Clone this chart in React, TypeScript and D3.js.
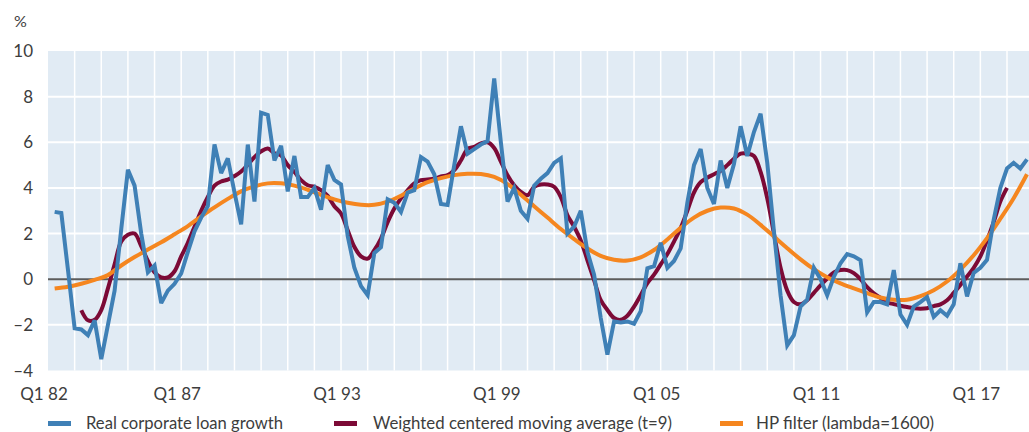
import React from 'react';
import * as d3 from 'd3';

// all quarters on the axis, Q1 82 .. Q4 18
const quarters = d3.range(148).map(i => `Q${(i % 4) + 1} ${String((82 + Math.floor(i / 4)) % 100).padStart(2, '0')}`);
const tickLabels = ['Q1 82', 'Q1 87', 'Q1 93', 'Q1 99', 'Q1 05', 'Q1 11', 'Q1 17'];
const yTicks = [-4, -2, 0, 2, 4, 6, 8, 10];

const seriesNames = ['Real corporate loan growth', 'Weighted centered moving average (t=9)', 'HP filter (lambda=1600)'];

// real corporate loan growth, from Q2 82
const loanStart = 'Q2 82';
const loanGrowth = [
  2.95, 2.9, 0.4, -2.15, -2.2, -2.45, -1.8, -3.5, -2.0, -0.5,
  2.2, 4.8, 4.1, 2.0, 0.3, 0.6, -1.05, -0.5, -0.2, 0.25,
  1.2, 2.1, 2.7, 3.2, 5.9, 4.65, 5.3, 3.8, 2.4, 5.9,
  3.4, 7.3, 7.2, 5.2, 5.85, 3.85, 5.4, 3.6, 3.6, 4.0,
  3.05, 5.0, 4.35, 4.15, 1.9, 0.5, -0.3, -0.7, 1.15, 1.4,
  3.5, 3.35, 2.95, 3.8, 3.9, 5.35, 5.15, 4.6, 3.3, 3.25,
  5.0, 6.7, 5.5, 5.7, 5.9, 6.05, 8.8, 6.0, 3.4, 4.0,
  3.0, 2.65, 4.1, 4.4, 4.65, 5.1, 5.3, 2.0, 2.3, 3.0,
  1.2, 0.2, -1.7, -3.3, -1.85, -1.9, -1.85, -1.95, -1.4, 0.48,
  0.57, 1.6, 0.5, 0.8, 1.35, 3.35, 5.0, 5.7, 4.0, 3.3,
  5.2, 4.0, 5.05, 6.7, 5.4, 6.45, 7.25, 5.1, 2.1, -0.7,
  -2.9, -2.45, -1.2, -0.9, 0.5, 0.0, -0.7, 0.1, 0.7, 1.1,
  1.0, 0.83, -1.45, -1.0, -1.0, -1.1, 0.4, -1.55, -2.0, -1.2,
  -1.0, -0.78, -1.65, -1.36, -1.6, -1.1, 0.7, -0.75, 0.28, 0.5,
  0.85, 2.6, 4.0, 4.85, 5.1, 4.85, 5.25,
];

// weighted centered moving average, from Q2 83
const wmaStart = 'Q2 83';
const wma = [
  -1.36, -1.8, -1.78, -1.35, -0.4, 0.65,
  1.65, 1.95, 2.0, 1.45, 0.8, 0.3, 0.08, 0.08, 0.35, 1.0,
  1.6, 2.3, 3.0, 3.6, 4.1, 4.28, 4.36, 4.52, 4.72, 5.02,
  5.35, 5.6, 5.73, 5.52, 5.42, 5.0, 4.7, 4.34, 4.12, 4.05,
  3.9, 3.65, 3.2, 2.88, 2.15, 1.42, 1.0, 0.9, 1.27, 1.78,
  2.5, 3.1, 3.54, 3.9, 4.2, 4.34, 4.37, 4.4, 4.5, 4.56,
  4.78, 5.2, 5.7, 5.8, 5.95, 6.0, 5.75, 5.15, 4.56, 4.12,
  3.83, 3.68, 4.05, 4.15, 4.15, 4.05, 3.6, 2.8, 2.3, 1.7,
  0.83, -0.04, -0.92, -1.35, -1.7, -1.78, -1.6, -1.2, -0.7, -0.17,
  0.2, 0.65, 1.1, 1.65, 2.25, 3.0, 3.8, 4.25, 4.45, 4.6,
  4.75, 5.0, 5.28, 5.5, 5.5, 5.4, 4.7, 3.55, 2.0, 0.5,
  -0.5, -1.0, -1.1, -0.92, -0.6, -0.27, 0.03, 0.3, 0.4, 0.4,
  0.27, 0.0, -0.35, -0.62, -0.82, -1.02, -1.09, -1.16, -1.22, -1.27,
  -1.29, -1.27, -1.18, -1.1, -0.92, -0.6, -0.25, 0.12, 0.5, 1.0,
  1.7, 2.5, 3.4, 4.0,
];

// HP trend, read every second quarter from Q2 82
const hpStart = 'Q2 82';
const hpStep = 2;
const hpTrend = [
  -0.41, -0.33, -0.2, -0.03, 0.18, 0.6, 0.97, 1.3, 1.62, 1.97,
  2.33, 2.75, 3.15, 3.52, 3.85, 4.07, 4.2, 4.2, 4.1, 3.92,
  3.7, 3.5, 3.35, 3.26, 3.26, 3.4, 3.66, 3.97, 4.25, 4.43,
  4.56, 4.62, 4.61, 4.48, 4.17, 3.7, 3.2, 2.7, 2.2, 1.76,
  1.35, 1.02, 0.85, 0.82, 0.96, 1.28, 1.74, 2.25, 2.7, 3.0,
  3.14, 3.1, 2.83, 2.38, 1.87, 1.36, 0.87, 0.44, 0.09, -0.18,
  -0.4, -0.61, -0.8, -0.9, -0.9, -0.74, -0.48, -0.1, 0.42, 1.05,
  1.8, 2.65, 3.55, 4.6,
];

const colors = ['#3f80b6', '#7c0a36', '#f5861f'];

export default function App() {
  const W = 1029;
  const H = 432;
  const left = 48;
  const top = 51;
  const bottom = 370.5;

  const x = d3.scaleLinear().domain([0, 144]).range([left, 1007]);
  const y = d3.scaleLinear().domain([-4, 10]).range([bottom, top]);

  const toPoints = (vals: number[], start: string, step = 1) => {
    const s = quarters.indexOf(start);
    return vals.map((v, i) => [s + i * step, v] as [number, number]);
  };

  const lineStraight = d3.line<[number, number]>().x(d => x(d[0])).y(d => y(d[1]));
  const lineSmooth = d3.line<[number, number]>().x(d => x(d[0])).y(d => y(d[1])).curve(d3.curveCatmullRom);

  const yearTicks = quarters.map((q, i) => i).filter(i => i % 4 === 0 && i > 0);
  const font = "Lato, 'Open Sans', sans-serif";
  const textColor = '#3d3d3d';

  // legend layout: swatch x, text x, text width
  const legend = [
    { sx: 48, tx: 86, w: 197 },
    { sx: 334, tx: 373, w: 299 },
    { sx: 720, tx: 756, w: 178 },
  ];

  return (
    <svg width={W} height={H} style={{ position: 'absolute', left: 0, top: 0 }} fontFamily={font}>
      <rect x={0} y={0} width={W} height={H} fill="#fff" />
      <rect x={left} y={top} width={W - left + 10} height={bottom - top} fill="#e1ebf4" />
      {yTicks.filter(t => t !== 0 && t !== 10 && t !== -4).map(t => (
        <line key={'h' + t} x1={left} x2={W} y1={y(t)} y2={y(t)} stroke="#fff" strokeWidth={2} />
      ))}
      {yearTicks.map(i => (
        <line key={'v' + i} x1={x(i)} x2={x(i)} y1={top} y2={bottom} stroke="#fff" strokeWidth={1.5} />
      ))}
      <line x1={left} x2={W} y1={y(0)} y2={y(0)} stroke="#5c5c5c" strokeWidth={2} />

      <path d={lineSmooth(toPoints(wma, wmaStart)) || ''} fill="none" stroke={colors[1]} strokeWidth={4} />
      <path d={lineSmooth(toPoints(hpTrend, hpStart, hpStep)) || ''} fill="none" stroke={colors[2]} strokeWidth={4} />
      <path d={lineStraight(toPoints(loanGrowth, loanStart)) || ''} fill="none" stroke={colors[0]} strokeWidth={4} strokeLinejoin="miter" strokeMiterlimit={3} />

      <text x={14} y={27} fontSize={16} fill={textColor}>%</text>
      {yTicks.map(t => (
        <text key={'yl' + t} x={33} y={y(t)} dy="0.36em" textAnchor="end" fontSize={17} fill={textColor}>
          {t < 0 ? '\u2013' + Math.abs(t) : t}
        </text>
      ))}
      {tickLabels.map(l => (
        <text key={l} x={x(quarters.indexOf(l)) - 4} y={400} textAnchor="middle" fontSize={17} fill={textColor}>{l}</text>
      ))}

      {seriesNames.map((n, i) => (
        <g key={n}>
          <rect x={legend[i].sx} y={421} width={23} height={5} fill={colors[i]} />
          <text x={legend[i].tx} y={429} fontSize={16.5} fill={textColor}
            textLength={legend[i].w} lengthAdjust="spacingAndGlyphs">{n}</text>
        </g>
      ))}
    </svg>
  );
}
